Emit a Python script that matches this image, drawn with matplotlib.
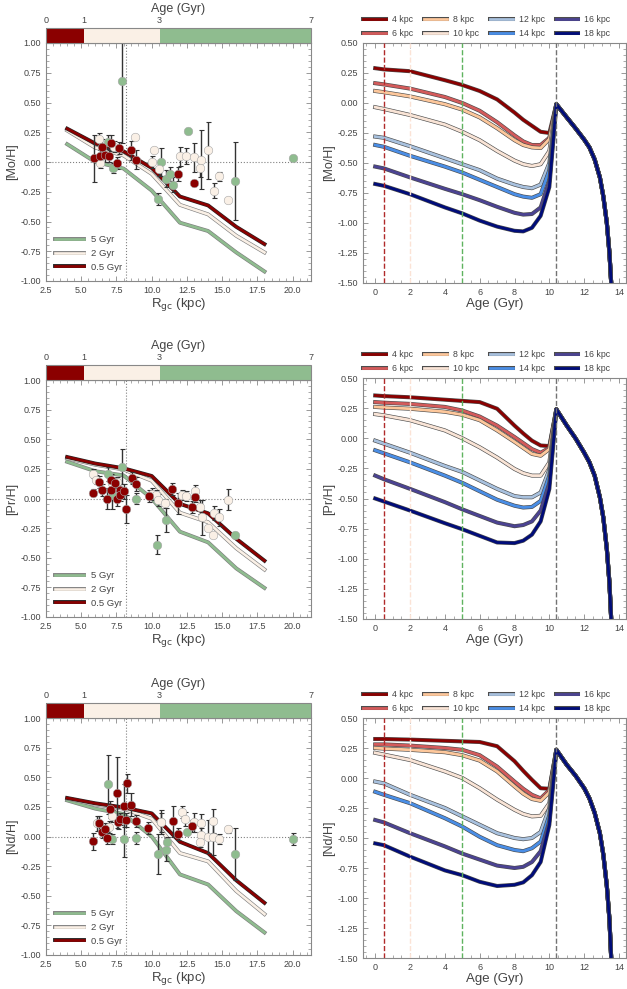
import numpy as np
import matplotlib
matplotlib.use("Agg")
import matplotlib.pyplot as plt
import matplotlib.patheffects as pe
from matplotlib.colors import ListedColormap, BoundaryNorm
from matplotlib.cm import ScalarMappable
from matplotlib.ticker import AutoMinorLocator

plt.rcParams['font.family'] = ['Liberation Sans', 'DejaVu Sans']
plt.rcParams['axes.unicode_minus'] = True

# ---------------- data ----------------
# age categories of the clusters
age_bounds = [0, 1, 3, 7]
age_colors = ['darkred', 'linen', 'darkseagreen']

radii = [4, 6, 8, 10, 12, 14, 16, 18]
radius_colors = ['#8b0000', '#d45b5b', '#fdc79b', '#f9e4d6',
                 '#a8c1de', '#4a8ee6', '#4b4392', '#000c7a']

# model tracks vs age (Gyr), one row per radius
track_ages = [0, 0.5, 2, 4, 5, 6, 7, 8, 8.5, 9, 9.5, 10, 10.4]
decline_ages = [10.4, 11, 11.5, 12, 12.3, 12.6, 12.9, 13.1, 13.3, 13.45, 13.55]

mo_tracks = [
    [0.29, 0.28, 0.265, 0.19, 0.15, 0.10, 0.03, -0.08, -0.14, -0.19, -0.24, -0.25, -0.01],
    [0.165, 0.155, 0.12, 0.05, 0.0, -0.065, -0.16, -0.27, -0.32, -0.35, -0.35, -0.29, -0.01],
    [0.10, 0.09, 0.055, -0.01, -0.055, -0.12, -0.21, -0.31, -0.35, -0.37, -0.375, -0.30, -0.01],
    [-0.035, -0.05, -0.10, -0.18, -0.24, -0.31, -0.40, -0.48, -0.51, -0.525, -0.51, -0.40, -0.01],
    [-0.28, -0.29, -0.36, -0.46, -0.51, -0.56, -0.63, -0.68, -0.70, -0.71, -0.68, -0.50, -0.01],
    [-0.35, -0.365, -0.44, -0.53, -0.58, -0.64, -0.70, -0.76, -0.78, -0.79, -0.76, -0.56, -0.01],
    [-0.53, -0.545, -0.62, -0.715, -0.76, -0.81, -0.865, -0.915, -0.93, -0.925, -0.87, -0.65, -0.01],
    [-0.675, -0.69, -0.76, -0.87, -0.92, -0.98, -1.03, -1.065, -1.07, -1.04, -0.94, -0.70, -0.01],
]
mo_decline = [-0.01, -0.12, -0.21, -0.305, -0.37, -0.47, -0.62, -0.78, -1.0, -1.25, -1.5]

pr_tracks = [
    [0.355, 0.35, 0.34, 0.32, 0.31, 0.30, 0.245, 0.105, 0.04, -0.02, -0.06, -0.065, 0.24],
    [0.30, 0.295, 0.285, 0.26, 0.23, 0.18, 0.105, 0.01, -0.04, -0.09, -0.12, -0.08, 0.24],
    [0.26, 0.255, 0.245, 0.22, 0.195, 0.15, 0.065, -0.03, -0.08, -0.13, -0.145, -0.09, 0.24],
    [0.20, 0.19, 0.15, 0.065, 0.0, -0.075, -0.16, -0.255, -0.29, -0.31, -0.31, -0.20, 0.24],
    [-0.02, -0.045, -0.12, -0.23, -0.28, -0.35, -0.42, -0.48, -0.49, -0.49, -0.45, -0.26, 0.24],
    [-0.10, -0.125, -0.20, -0.31, -0.37, -0.44, -0.51, -0.56, -0.575, -0.57, -0.52, -0.31, 0.24],
    [-0.31, -0.34, -0.42, -0.53, -0.59, -0.645, -0.70, -0.73, -0.72, -0.69, -0.60, -0.37, 0.24],
    [-0.50, -0.525, -0.60, -0.705, -0.755, -0.81, -0.865, -0.87, -0.85, -0.80, -0.69, -0.42, 0.24],
]
pr_decline = [0.24, 0.105, 0.0, -0.12, -0.20, -0.31, -0.49, -0.66, -0.92, -1.2, -1.5]

nd_tracks = [
    [0.325, 0.325, 0.32, 0.31, 0.305, 0.30, 0.265, 0.14, 0.06, -0.015, -0.085, -0.09, 0.235],
    [0.28, 0.28, 0.27, 0.25, 0.235, 0.19, 0.095, -0.03, -0.09, -0.14, -0.17, -0.10, 0.235],
    [0.25, 0.245, 0.235, 0.215, 0.19, 0.145, 0.055, -0.07, -0.13, -0.175, -0.19, -0.12, 0.235],
    [0.21, 0.195, 0.15, 0.055, 0.0, -0.085, -0.18, -0.265, -0.30, -0.32, -0.315, -0.21, 0.235],
    [-0.03, -0.045, -0.14, -0.25, -0.32, -0.39, -0.46, -0.50, -0.51, -0.50, -0.45, -0.25, 0.235],
    [-0.115, -0.14, -0.21, -0.335, -0.405, -0.49, -0.56, -0.60, -0.61, -0.585, -0.53, -0.31, 0.235],
    [-0.35, -0.37, -0.46, -0.57, -0.63, -0.68, -0.73, -0.75, -0.74, -0.70, -0.61, -0.36, 0.235],
    [-0.545, -0.56, -0.655, -0.77, -0.81, -0.865, -0.90, -0.89, -0.87, -0.81, -0.70, -0.39, 0.235],
]
nd_decline = [0.235, 0.11, 0.02, -0.085, -0.17, -0.29, -0.46, -0.64, -0.90, -1.18, -1.5]

# open clusters: Rgc (kpc), [X/H], error, split by age group
mo_old_x = [7.9, 6.9, 7.25, 10.67, 10.43, 10.98, 11.33, 11.52, 12.6, 15.94, 20.0]
mo_old_y = [0.68, 0.17, -0.05, 0.0, -0.31, -0.14, -0.10, -0.19, 0.26, -0.16, 0.03]
mo_old_e = [0.52, 0.06, 0.04, 0.12, 0.05, 0.07, 0.06, 0.06, 0.0, 0.33, 0.0]
mo_mid_x = [6.25, 6.3, 7.3, 8.8, 10.15, 10.0, 10.5, 12.04, 12.4, 13.03, 13.5, 13.46, 13.98, 14.75, 14.4, 15.4]
mo_mid_y = [0.19, -0.01, 0.13, 0.21, 0.10, 0.0, -0.06, 0.05, 0.05, 0.04, 0.02, -0.05, 0.10, -0.12, -0.24, -0.32]
mo_mid_e = [0.05, 0.04, 0.05, 0.0, 0.0, 0.05, 0.06, 0.08, 0.07, 0.12, 0.25, 0.08, 0.24, 0.04, 0.06, 0.0]
mo_young_x = [5.9, 6.35, 6.7, 7.0, 7.1, 7.55, 7.65, 8.5, 8.85, 11.85, 12.98, 6.45]
mo_young_y = [0.03, 0.05, 0.06, 0.05, 0.16, -0.01, 0.12, 0.10, 0.02, -0.10, -0.18, 0.13]
mo_young_e = [0.20, 0.05, 0.06, 0.05, 0.07, 0.05, 0.05, 0.08, 0.08, 0.06, 0.0, 0.06]

pr_old_x = [7.9, 6.9, 7.2, 8.9, 11.0, 10.4, 15.94]
pr_old_y = [0.27, 0.21, 0.03, 0.0, -0.18, -0.39, -0.31]
pr_old_e = [0.15, 0.06, 0.12, 0.05, 0.10, 0.08, 0.0]
pr_mid_x = [5.83, 6.06, 7.2, 7.55, 10.03, 10.3, 10.45, 10.93, 12.16, 12.44, 13.04, 13.46, 13.58, 13.98, 14.36, 14.4, 14.76, 15.4]
pr_mid_y = [0.21, 0.16, 0.13, 0.14, 0.04, 0.03, -0.01, -0.04, 0.03, 0.02, 0.06, -0.07, -0.16, -0.25, -0.31, -0.12, -0.16, -0.01]
pr_mid_e = [0.04, 0.04, 0.05, 0.04, 0.05, 0.04, 0.05, 0.04, 0.04, 0.04, 0.05, 0.06, 0.15, 0.0, 0.0, 0.06, 0.07, 0.09]
pr_young_x = [5.85, 6.25, 6.5, 6.8, 7.08, 7.08, 7.43, 7.55, 7.72, 7.78, 8.05, 8.21, 8.6, 8.85, 9.8, 11.47, 11.85, 12.85, 13.04]
pr_young_y = [0.05, 0.14, 0.07, 0.0, 0.16, 0.07, 0.13, 0.0, 0.07, 0.03, 0.06, -0.09, 0.17, 0.12, 0.02, 0.08, -0.04, -0.07, 0.01]
pr_young_e = [0.03, 0.05, 0.05, 0.09, 0.05, 0.05, 0.04, 0.06, 0.05, 0.05, 0.06, 0.12, 0.05, 0.06, 0.05, 0.05, 0.09, 0.05, 0.04]

nd_old_x = [6.89, 7.2, 8.0, 8.9, 10.44, 10.67, 10.98, 11.05, 12.5, 15.94, 20.05]
nd_old_y = [0.44, -0.02, -0.02, -0.01, -0.15, 0.12, -0.11, -0.05, 0.04, -0.15, -0.02]
nd_old_e = [0.25, 0.04, 0.15, 0.05, 0.17, 0.10, 0.10, 0.05, 0.0, 0.22, 0.05]
nd_mid_x = [6.1, 6.96, 7.2, 10.67, 12.16, 12.39, 12.98, 13.5, 13.5, 13.46, 13.98, 14.36, 14.36, 14.76, 15.4]
nd_mid_y = [0.11, 0.08, 0.17, 0.12, 0.21, 0.15, 0.12, 0.11, 0.01, -0.05, 0.0, 0.13, 0.0, -0.02, 0.06]
nd_mid_e = [0.06, 0.05, 0.05, 0.08, 0.05, 0.06, 0.08, 0.08, 0.06, 0.04, 0.14, 0.10, 0.16, 0.04, 0.03]
nd_young_x = [5.85, 6.25, 6.49, 6.72, 6.8, 7.05, 7.55, 7.6, 7.74, 8.02, 8.26, 8.55, 8.21, 8.92, 9.75, 11.52, 11.85, 12.87]
nd_young_y = [-0.04, 0.11, 0.04, 0.06, -0.01, 0.23, 0.37, 0.12, 0.15, 0.26, 0.45, 0.27, 0.14, 0.13, 0.07, 0.13, 0.02, 0.09]
nd_young_e = [0.07, 0.06, 0.05, 0.05, 0.05, 0.07, 0.30, 0.06, 0.05, 0.18, 0.08, 0.10, 0.06, 0.05, 0.05, 0.13, 0.05, 0.05]

r_sun = 8.2
gradient_ages = [5, 2, 0.5]          # order in the legend
gradient_labels = ['5 Gyr', '2 Gyr', '0.5 Gyr']
gradient_colors = ['darkseagreen', 'linen', 'darkred']
gradient_edges = ['0.5', '0.5', '0.15']

vline_ages = [0.5, 2, 5, 10.4]
vline_colors = ['#b02a2a', '#fbe3d6', '#5fb35f', '0.45']

elements = [
    ('[Mo/H]', mo_tracks, mo_decline,
     [(mo_old_x, mo_old_y, mo_old_e), (mo_mid_x, mo_mid_y, mo_mid_e), (mo_young_x, mo_young_y, mo_young_e)]),
    ('[Pr/H]', pr_tracks, pr_decline,
     [(pr_old_x, pr_old_y, pr_old_e), (pr_mid_x, pr_mid_y, pr_mid_e), (pr_young_x, pr_young_y, pr_young_e)]),
    ('[Nd/H]', nd_tracks, nd_decline,
     [(nd_old_x, nd_old_y, nd_old_e), (nd_mid_x, nd_mid_y, nd_mid_e), (nd_young_x, nd_young_y, nd_young_e)]),
]
group_colors = ['darkseagreen', 'linen', 'darkred']

# ---------------- layout (pixel boxes) ----------------
W, H = 627, 989
fig = plt.figure(figsize=(W / 100, H / 100), dpi=100)

def px_axes(left, top, right, bottom):
    return fig.add_axes([left / W, 1 - bottom / H, (right - left) / W, (bottom - top) / H])

left_boxes = [(46, 43, 311, 281), (46, 380, 311, 617), (46, 718, 311, 955)]
right_boxes = [(363, 43, 626, 283), (363, 378, 626, 619), (363, 718, 626, 958)]

TXT = '#444444'
SPINE = '#888888'

def style_axes(ax):
    for s in ax.spines.values():
        s.set_color(SPINE)
        s.set_linewidth(0.8)
    ax.tick_params(which='both', direction='in', top=True, right=True,
                   colors=SPINE, labelcolor=TXT, labelsize=6.5)
    ax.tick_params(which='major', length=3.5, width=0.6)
    ax.tick_params(which='minor', length=2, width=0.5)
    ax.xaxis.set_minor_locator(AutoMinorLocator())
    ax.yaxis.set_minor_locator(AutoMinorLocator())

def outline(edge, lw):
    return [pe.Stroke(linewidth=lw + 0.9, foreground=edge), pe.Normal()]

cmap = ListedColormap(age_colors)
norm = BoundaryNorm(age_bounds, cmap.N)

for row, (label, tracks, decline, groups) in enumerate(elements):
    tracks = np.array(tracks)

    # ---- left: gradient vs Rgc ----
    l, t, r, b = left_boxes[row]
    ax = px_axes(l, t, r, b)
    cax = px_axes(l, t - 15, r, t)
    cb = fig.colorbar(ScalarMappable(norm=norm, cmap=cmap), cax=cax,
                      orientation='horizontal', spacing='proportional', ticks=age_bounds)
    cb.outline.set_edgecolor(SPINE)
    cax.xaxis.set_ticks_position('top')
    cax.xaxis.set_label_position('top')
    cax.set_xticklabels([str(a) for a in age_bounds])
    cax.tick_params(labelsize=6.5, labelcolor=TXT, colors=SPINE, length=0, pad=2)
    cax.set_xlabel('Age (Gyr)', fontsize=9, color=TXT, labelpad=3)

    ax.axhline(0, color='0.5', ls=':', lw=0.8, zorder=1)
    ax.axvline(r_sun, color='0.5', ls=':', lw=0.8, zorder=1)

    for age, lab, col, edge in zip(gradient_ages, gradient_labels, gradient_colors, gradient_edges):
        idx = track_ages.index(age)
        ax.plot(radii, tracks[:, idx], color=col, lw=1.9, label=lab, zorder=2,
                path_effects=outline(edge, 1.9))

    for (gx, gy, ge), col in zip(groups, group_colors):
        ax.errorbar(gx, gy, yerr=ge, fmt='none', ecolor='0.2', elinewidth=1.0,
                    capsize=1.8, capthick=0.8, zorder=3)
        ax.scatter(gx, gy, s=38, color=col, edgecolor='0.65', linewidth=0.4, zorder=4)

    ax.set_xlim(2.5, 21.3)
    ax.set_ylim(-1.0, 1.0)
    ax.set_xticks(np.arange(2.5, 20.1, 2.5))
    ax.set_yticks(np.arange(-1.0, 1.01, 0.25))
    ax.xaxis.set_major_formatter(plt.FormatStrFormatter('%.1f'))
    ax.yaxis.set_major_formatter(plt.FormatStrFormatter('%.2f'))
    style_axes(ax)
    ax.set_xlabel('R$_{\\rm gc}$ (kpc)', fontsize=9.5, color=TXT, labelpad=1)
    ax.set_ylabel(label, fontsize=9, color=TXT, labelpad=2)
    leg = ax.legend(loc='lower left', frameon=False, fontsize=6.8, handlelength=3.0,
                    borderaxespad=0.6, labelspacing=0.5)
    for txt in leg.get_texts():
        txt.set_color(TXT)

    # ---- right: tracks vs age ----
    l, t, r, b = right_boxes[row]
    ax2 = px_axes(l, t, r, b)
    for k in range(len(radii)):
        ages_full = track_ages + decline_ages[1:]
        vals_full = list(tracks[k]) + decline[1:]
        ax2.plot(ages_full, vals_full, color=radius_colors[k], lw=2.0,
                 label=f'{radii[k]} kpc', zorder=2,
                 path_effects=outline('0.3', 2.0))
    for va, vc in zip(vline_ages, vline_colors):
        ax2.axvline(va, color=vc, ls='--', lw=1.0, zorder=3)

    ax2.set_xlim(-0.7, 14.4)
    ax2.set_ylim(-1.5, 0.5)
    ax2.set_xticks(np.arange(0, 15, 2))
    ax2.set_yticks(np.arange(-1.5, 0.51, 0.25))
    ax2.yaxis.set_major_formatter(plt.FormatStrFormatter('%.2f'))
    style_axes(ax2)
    ax2.set_xlabel('Age (Gyr)', fontsize=9.5, color=TXT, labelpad=1)
    ax2.set_ylabel(label, fontsize=9, color=TXT, labelpad=2)
    leg2 = ax2.legend(loc='lower left', bbox_to_anchor=(0.0, 1.02), ncol=4,
                      frameon=False, fontsize=6.3, handlelength=2.6,
                      columnspacing=1.25, labelspacing=0.6, borderaxespad=0.0,
                      borderpad=0.0, handletextpad=0.7)
    for txt in leg2.get_texts():
        txt.set_color(TXT)

fig.savefig('out.png', dpi=100)
